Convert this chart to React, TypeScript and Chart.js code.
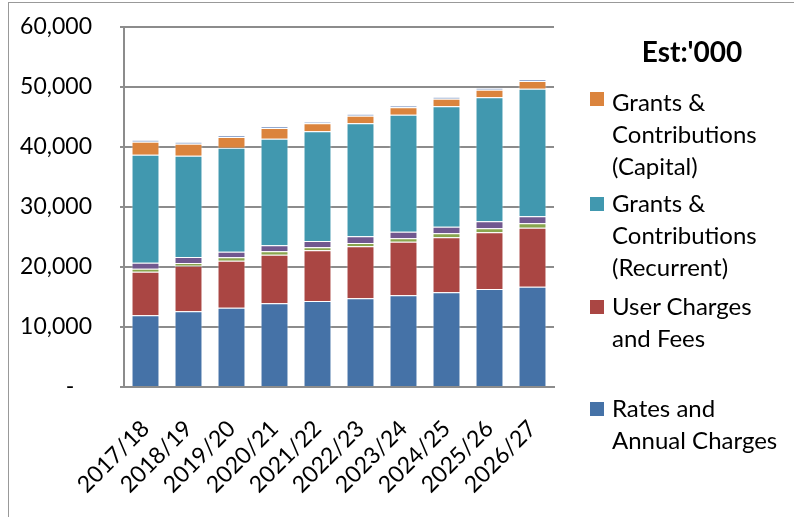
import React, { useEffect, useRef } from "react";
import { Chart, registerables } from "chart.js";

Chart.register(...registerables);

const categories = ["2017/18", "2018/19", "2019/20", "2020/21", "2021/22", "2022/23", "2023/24", "2024/25", "2025/26", "2026/27"];

const ratesAndAnnualCharges = [11950, 12610, 13220, 13940, 14330, 14780, 15280, 15780, 16330, 16720];
const userChargesAndFees = [7270, 7610, 7840, 8120, 8450, 8660, 8940, 9160, 9450, 9830];
const interestAndInvestment = [500, 450, 550, 550, 500, 560, 560, 670, 660, 730];
const otherRevenues = [1000, 1000, 950, 1000, 1050, 1110, 1110, 1110, 1170, 1170];
const grantsRecurrent = [18000, 16890, 17330, 17780, 18280, 18830, 19500, 20060, 20670, 21270];
const grantsCapital = [2160, 2000, 1780, 1780, 1330, 1280, 1220, 1280, 1280, 1280];
const netGains = [290, 330, 330, 330, 280, 280, 330, 270, 270, 330];

const yMin = 0;
const yMax = 60000;
const yStep = 10000;

const titleText = "Est:'000";

const legendItems = [
  { lines: ["Grants &", "Contributions", "(Capital)"], color: "#DB843D" },
  { lines: ["Grants &", "Contributions", "(Recurrent)"], color: "#4198AF" },
  { lines: ["User Charges", "and Fees"], color: "#AA4643" },
  { lines: ["Rates and", "Annual Charges"], color: "#4572A7" },
];

const FONT = "Lato, 'Liberation Sans', sans-serif";

export default function App() {
  const ref = useRef<HTMLCanvasElement | null>(null);

  useEffect(() => {
    if (!ref.current) return;
    const border = "rgba(255,255,255,0.45)";
    const chart = new Chart(ref.current, {
      type: "bar",
      data: {
        labels: categories,
        datasets: [
          { label: "Rates and Annual Charges", data: ratesAndAnnualCharges, backgroundColor: "#4572A7" },
          { label: "User Charges and Fees", data: userChargesAndFees, backgroundColor: "#AA4643" },
          { label: "Interest and Investment Revenue", data: interestAndInvestment, backgroundColor: "#89A54E" },
          { label: "Other Revenues", data: otherRevenues, backgroundColor: "#71588F" },
          { label: "Grants & Contributions (Recurrent)", data: grantsRecurrent, backgroundColor: "#4198AF" },
          { label: "Grants & Contributions (Capital)", data: grantsCapital, backgroundColor: "#DB843D" },
          { label: "Net Gains", data: netGains, backgroundColor: "#93A9CF" },
        ].map((d) => ({ ...d, borderColor: border, borderWidth: 1, barPercentage: 0.65, categoryPercentage: 1 })),
      },
      options: {
        responsive: false,
        animation: false,
        layout: { padding: { top: 27, right: 240, bottom: 0, left: 0 } },
        plugins: { legend: { display: false }, tooltip: { enabled: false } },
        scales: {
          x: {
            stacked: true,
            grid: { display: false },
            border: { display: true, color: "#8c8c8c", width: 2 },
            ticks: {
              color: "#000",
              font: { family: FONT, size: 23 },
              maxRotation: 45,
              minRotation: 45,
              autoSkip: false,
              padding: 20,
            },
            afterFit: (s: any) => {
              s.height = 130;
            },
          },
          y: {
            stacked: true,
            min: yMin,
            max: yMax,
            grid: { color: "#8c8c8c", lineWidth: 2, tickLength: 4 },
            border: { display: true, color: "#8c8c8c", width: 2 },
            ticks: {
              stepSize: yStep,
              color: "#000",
              font: { family: FONT, size: 23 },
              padding: 28,
              callback: (v: any) => (Number(v) === 0 ? "-   " : Number(v).toLocaleString("en-US")),
            },
            afterFit: (s: any) => {
              s.width = 124;
              s.paddingTop = 0;
              s.paddingBottom = 0;
            },
          },
        },
      },
    });
    return () => chart.destroy();
  }, []);

  const entryTops = [86, 187, 290, 392];
  const squareTops = [92, 197, 300, 402];

  return (
    <div style={{ position: "fixed", left: 0, top: 0, width: 794, height: 517, background: "#fff", overflow: "hidden" }}>
      <div style={{ position: "absolute", left: 8, top: 2, width: 800, height: 600, borderTop: "1px solid #999", borderLeft: "1px solid #999" }} />
      <canvas ref={ref} width={794} height={517} style={{ position: "absolute", left: 0, top: 0 }} />
      <div
        style={{
          position: "absolute",
          left: 592,
          width: 200,
          top: 34,
          textAlign: "center",
          fontFamily: FONT,
          fontWeight: 700,
          fontSize: 28,
          lineHeight: "34px",
        }}
      >
        {titleText}
      </div>
      {legendItems.map((it, i) => (
        <React.Fragment key={i}>
          <div style={{ position: "absolute", left: 590, top: squareTops[i], width: 14, height: 14, background: it.color }} />
          <div
            style={{
              position: "absolute",
              left: 612,
              top: entryTops[i],
              fontFamily: FONT,
              fontSize: 24,
              lineHeight: "32px",
              color: "#000",
              whiteSpace: "nowrap",
            }}
          >
            {it.lines.map((l, j) => (
              <div key={j}>{l}</div>
            ))}
          </div>
        </React.Fragment>
      ))}
    </div>
  );
}
